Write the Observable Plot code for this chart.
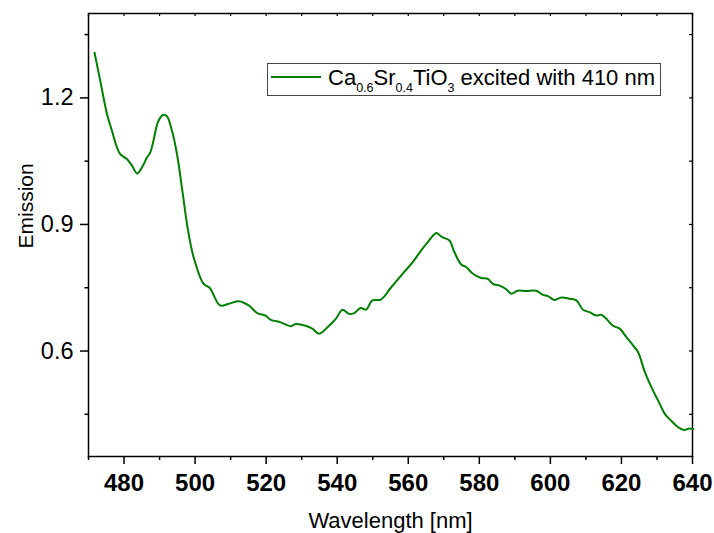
<!DOCTYPE html>
<html><head><meta charset="utf-8">
<script src="https://cdn.jsdelivr.net/npm/d3@7"></script>
<script src="https://cdn.jsdelivr.net/npm/@observablehq/plot@0.6"></script>
<style>html,body{margin:0;padding:0;background:#fff} svg{display:block}</style>
</head><body><div id="chart"></div>
<script>
const wavelength = [471.7,473.3,475.2,476.6,478.0,478.9,480.8,482.2,483.7,485.1,486.5,487.4,488.3,489.7,491.2,492.1,493.5,494.9,496.5,497.8,499.6,502.4,504.1,507.0,509.5,512.3,515.1,517.5,519.8,521.3,524.1,526.9,528.3,531.1,533.0,534.9,537.2,539.6,541.5,543.3,544.8,546.6,548.1,549.9,552.3,555.1,558.4,561.2,563.6,565.5,567.9,569.2,570.1,571.6,573.0,574.9,576.3,578.2,580.5,582.4,583.8,585.7,587.5,589.0,590.8,593.2,596.0,597.9,599.3,601.2,603.1,605.4,607.3,609.2,611.0,612.9,614.3,615.8,617.6,619.5,621.4,623.3,624.7,626.6,628.9,630.3,632.2,634.1,636.0,637.7,638.8,640.2];
const emission = [1.307,1.241,1.162,1.122,1.083,1.067,1.055,1.040,1.021,1.036,1.059,1.071,1.099,1.146,1.160,1.156,1.122,1.067,0.975,0.897,0.822,0.759,0.750,0.708,0.712,0.718,0.708,0.690,0.684,0.674,0.668,0.659,0.664,0.660,0.653,0.641,0.656,0.676,0.698,0.688,0.690,0.702,0.698,0.720,0.722,0.750,0.783,0.810,0.838,0.858,0.880,0.872,0.868,0.862,0.834,0.805,0.799,0.783,0.773,0.771,0.759,0.755,0.747,0.736,0.743,0.742,0.743,0.733,0.730,0.721,0.727,0.724,0.720,0.698,0.692,0.684,0.686,0.676,0.660,0.653,0.633,0.613,0.597,0.550,0.506,0.483,0.451,0.434,0.419,0.413,0.416,0.415];
const xMajorTicks = [480,500,520,540,560,580,600,620,640];
const xMinorTicks = [470,490,510,530,550,570,590,610,630];
const yMajorTicks = [0.6,0.9,1.2];
const yMinorTicks = [0.45,0.75,1.05,1.35];
const xLabel = "Wavelength [nm]";
const yLabel = "Emission";
// legend text parts: [text, isSubscript]
const legendParts = [["Ca",false],["0.6",true],["Sr",false],["0.4",true],["TiO",false],["3",true],[" excited with 410 nm",false]];
const lineColor = "#008000";

const data = wavelength.map((w, i) => ({w, e: emission[i]}));
const allXTicks = [...xMajorTicks, ...xMinorTicks].sort((a,b)=>a-b);
const allYTicks = [...yMajorTicks, ...yMinorTicks].sort((a,b)=>a-b);

const chart = Plot.plot({
  width: 714, height: 533,
  marginTop: 13, marginRight: 22, marginBottom: 77, marginLeft: 88,
  style: {fontFamily: "'Liberation Sans', Arial, sans-serif", background: "white", color: "black", overflow: "visible"},
  x: {domain: [470, 640]},
  y: {domain: [0.35, 1.40]},
  marks: [
    Plot.axisX(xMajorTicks, {anchor: "bottom", tickSize: 8, tickPadding: 9, fontSize: 24, fontWeight: "bold", strokeWidth: 1.5, label: null, tickFormat: d => String(d)}),
    Plot.axisX(xMinorTicks, {anchor: "bottom", tickSize: 4, text: null, strokeWidth: 1.5, label: null}),
    Plot.axisX(allXTicks, {anchor: "bottom", frameAnchor: "top", tickSize: 3, text: null, strokeWidth: 1.2, label: null}),
    Plot.axisY(yMajorTicks, {anchor: "left", tickSize: 8, tickPadding: 7, fontSize: 23.5, strokeWidth: 1.5, label: null, tickFormat: d3.format(".1f")}),
    Plot.axisY(yMinorTicks, {anchor: "left", tickSize: 3.5, text: null, strokeWidth: 1.5, label: null}),
    Plot.axisY(allYTicks, {anchor: "left", frameAnchor: "right", tickSize: 3, text: null, strokeWidth: 1.2, label: null}),
    Plot.frame({stroke: "black", strokeWidth: 1.5}),
    Plot.line(data, {x: "w", y: "e", stroke: lineColor, strokeWidth: 2, curve: "catmull-rom"}),
    Plot.text([xLabel], {frameAnchor: "bottom", lineAnchor: "bottom", dy: 71, fontSize: 22}),
    Plot.text([yLabel], {frameAnchor: "left", rotate: -90, lineAnchor: "bottom", dx: -56, dy: 13.5, fontSize: 21})
  ]
});

// legend box drawn inside the svg
const svg = d3.select(chart);
const lg = svg.append("g").attr("font-family", "'Liberation Sans', Arial, sans-serif").attr("text-anchor", "start");
lg.append("rect").attr("x", 267.5).attr("y", 63.5).attr("width", 393).attr("height", 32)
  .attr("fill", "white").attr("stroke", "#444").attr("stroke-width", 1);
lg.append("line").attr("x1", 271).attr("x2", 321).attr("y1", 77).attr("y2", 77)
  .attr("stroke", lineColor).attr("stroke-width", 2);
const t = lg.append("text").attr("x", 328).attr("y", 85).attr("font-size", 22).attr("fill", "black")
  .attr("text-anchor", "start").style("white-space", "pre");
let sub = false;
for (const [s, isSub] of legendParts) {
  const ts = t.append("tspan").text(s);
  if (isSub) ts.attr("font-size", 12.5);
  if (isSub && !sub) ts.attr("dy", 7);
  else if (!isSub && sub) ts.attr("dy", -7);
  sub = isSub;
}
document.getElementById("chart").appendChild(chart);
</script>
</body></html>
